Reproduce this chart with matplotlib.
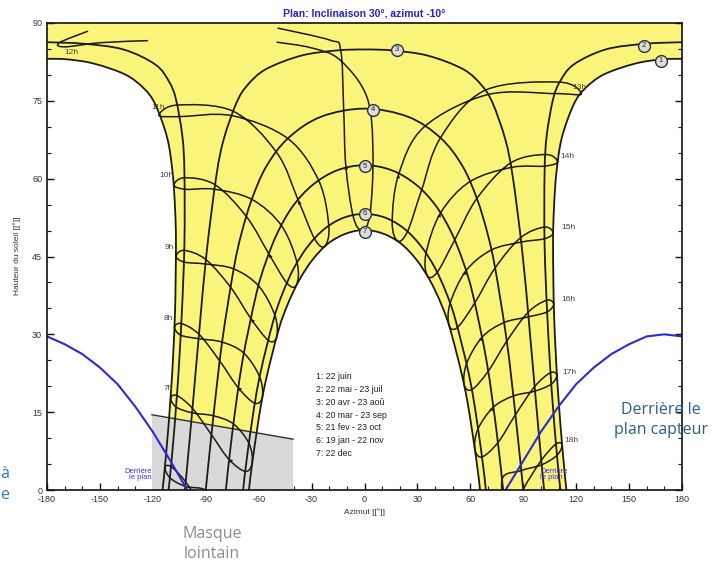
import matplotlib
matplotlib.use("Agg")
import matplotlib.pyplot as plt
from matplotlib.ticker import MultipleLocator
from matplotlib.path import Path
from matplotlib.patches import PathPatch

plt.rcParams['font.family'] = ['Liberation Sans', 'DejaVu Sans']
plt.rcParams['axes.unicode_minus'] = False

# ---------------- data (azimut [deg], hauteur [deg]) ----------------
# date curves
c1L_az = [-114.5, -112.6, -109.5, -107.5, -106.9, -107.4, -108.75, -111.8, -118.6, -125.1, -135.8, -153.7, -168.75, -180]
c1L_h = [0, 6.5, 19.9, 33.6, 47.3, 54.2, 61.0, 67.8, 74.3, 77.4, 80.1, 82.2, 83.0, 83.1]
c1R_az = [180, 168.75, 153.7, 135.8, 125.1, 118.6, 111.8, 108.75, 107.4, 106.9, 107.5, 109.5, 112.6, 114.5]
c1R_h = [83.1, 83.0, 82.2, 80.1, 77.4, 74.3, 67.8, 61.0, 54.2, 47.3, 33.6, 19.9, 6.5, 0]

c2L_az = [-111.1, -109.4, -106.1, -103.7, -102.1, -102.1, -103.3, -106.9, -110.8, -118.6, -136.7, -159.2, -180]
c2L_h = [0, 5.6, 19.3, 33.2, 47.3, 61.3, 68.3, 75.3, 78.7, 82.0, 84.9, 86.0, 86.3]
c2R_az = [180, 159.2, 136.7, 118.6, 110.8, 106.9, 103.3, 102.1, 102.1, 103.7, 106.1, 109.4, 111.1]
c2R_h = [86.3, 86.0, 84.9, 82.0, 78.7, 75.3, 68.3, 61.3, 47.3, 33.2, 19.3, 5.6, 0]

c3_az = [-101.9, -100.9, -97.1, -93.4, -89.4, -84.0, -79.8, -72.6, -66.4, -55.9, -36.0, -16.1, 0,
         16.1, 36.0, 55.9, 66.4, 72.6, 79.8, 84.0, 89.4, 93.4, 97.1, 100.9, 101.9]
c3_h = [0, 3.2, 17.4, 31.7, 46.1, 60.5, 67.6, 74.6, 78.0, 81.1, 83.7, 84.7, 84.9,
        84.7, 83.7, 81.1, 78.0, 74.6, 67.6, 60.5, 46.1, 31.7, 17.4, 3.2, 0]

c4_az = [-90, -85.6, -80.7, -74.1, -69.7, -63.8, -55.6, -43.3, -24.9, 0, 24.9, 43.3, 55.6, 63.8, 69.7, 74.1, 80.7, 85.6, 90]
c4_h = [0, 14.4, 28.6, 42.7, 49.5, 56.1, 62.4, 67.8, 71.9, 73.5, 71.9, 67.8, 62.4, 56.1, 49.5, 42.7, 28.6, 14.4, 0]

c5_az = [-78.6, -75.0, -69.3, -61.4, -56.0, -49.3, -40.6, -29.4, -15.6, 0, 15.6, 29.4, 40.6, 49.3, 56.0, 61.4, 69.3, 75.0, 78.6]
c5_h = [0, 10.95, 24.65, 37.7, 43.9, 49.6, 54.7, 58.8, 61.6, 62.6, 61.6, 58.8, 54.7, 49.6, 43.9, 37.7, 24.65, 10.95, 0]

c6_az = [-68.8, -66.1, -60.2, -51.8, -46.4, -39.8, -31.8, -22.4, -11.6, 0, 11.6, 22.4, 31.8, 39.8, 46.4, 51.8, 60.2, 66.1, 68.8]
c6_h = [0, 7.7, 20.6, 32.5, 37.95, 42.9, 47.1, 50.4, 52.5, 53.2, 52.5, 50.4, 47.1, 42.9, 37.95, 32.5, 20.6, 7.7, 0]

c7_az = [-65.5, -63.1, -57.2, -48.9, -43.5, -37.1, -29.4, -20.6, -10.6, 0, 10.6, 20.6, 29.4, 37.1, 43.5, 48.9, 57.2, 63.1, 65.5]
c7_h = [0, 6.6, 19.1, 30.6, 35.8, 40.4, 44.4, 47.5, 49.4, 50.1, 49.4, 47.5, 44.4, 40.4, 35.8, 30.6, 19.1, 6.6, 0]

# hour lines (analemmas): Jun, Jul, Aug, Sep, Oct, Nov, Dec, Jan, Feb, Mar, Apr, May, Jun
h06 = [(-113.15, 4.32), (-110.19, 2.32), (-101.57, 0.69), (-90.03, -0.1), (-88, -4), (-91.14, -3.74),
       (-101.34, 1.54), (-109.66, 4.51), (-113.15, 4.32)]
h07 = [(-109.92, 17.69), (-106.78, 15.99), (-97.76, 14.88), (-85.63, 14.3), (-74.26, 12.73), (-65.51, 8.99),
       (-63.67, 5.29), (-67.54, 3.58), (-76.9, 5.92), (-86.81, 10.68), (-97.54, 15.74), (-106.33, 18.2), (-109.92, 17.69)]
h08 = [(-107.71, 31.36), (-104.18, 29.84), (-94.08, 29.16), (-80.74, 28.51), (-68.42, 26.39), (-59.48, 21.84),
       (-57.93, 17.86), (-62.42, 16.75), (-71.77, 19.79), (-82.19, 24.92), (-93.85, 30.03), (-103.86, 32.08), (-107.71, 31.36)]
h09 = [(-106.8, 45.06), (-102.29, 43.93), (-90.23, 43.56), (-74.14, 42.61), (-60.0, 39.32), (-50.72, 33.59),
       (-49.83, 29.45), (-54.4, 28.81), (-64.27, 32.96), (-75.82, 39.03), (-89.95, 44.42), (-102.16, 46.18), (-106.8, 45.06)]
h10 = [(-108.04, 58.77), (-101.52, 57.95), (-85.14, 57.97), (-63.88, 56.01), (-47.04, 50.93), (-38.2, 43.74),
       (-38.56, 39.52), (-43.89, 39.83), (-54.15, 45.46), (-66.88, 52.67), (-84.75, 58.83), (-101.91, 60.18), (-108.04, 58.77)]
h11 = [(-116.4, 72.2), (-105.17, 71.95), (-75.14, 72.14), (-43.46, 67.73), (-25.81, 59.52), (-20.24, 50.82),
       (-22.54, 46.99), (-28.21, 48.35), (-37.52, 55.8), (-49.7, 64.99), (-74.28, 72.97), (-106.32, 74.18), (-116.4, 72.2)]
h13 = [(122.8, 76.3), (110.6, 78.6), (68.23, 77.01), (43.06, 67.86), (32.31, 57.73), (24.28, 49.74),
       (18.66, 48.01), (15.7, 51.7), (19.37, 60.82), (33.74, 69.95), (69.71, 76.19), (108.15, 76.39), (122.8, 76.3)]
h14 = [(109.46, 63.23), (102.68, 64.65), (82.86, 63.03), (63.69, 56.18), (51.04, 48.12), (41.12, 41.91),
       (35.64, 41.28), (34.82, 45.5), (42.98, 53.31), (59.55, 59.38), (83.25, 62.17), (102.29, 62.42), (109.46, 63.23)]
h15 = [(107.0, 49.54), (101.91, 50.67), (88.57, 48.64), (74.04, 42.79), (62.43, 36.0), (52.64, 31.31),
       (47.97, 31.75), (48.45, 35.88), (57.48, 42.22), (71.81, 46.24), (88.85, 47.78), (102.04, 48.42), (107.0, 49.54)]
h16 = [(107.29, 35.84), (103.22, 36.56), (92.72, 34.24), (80.66, 28.69), (70.18, 22.91), (60.92, 19.36),
       (56.47, 20.34), (57.98, 24.45), (66.83, 29.51), (79.21, 32.28), (92.95, 33.37), (103.54, 34.32), (107.29, 35.84)]
h17 = [(109.08, 22.11), (105.42, 22.61), (96.44, 19.92), (85.57, 14.5), (75.68, 9.15), (66.57, 6.37),
       (62.53, 7.91), (64.27, 11.7), (72.93, 15.93), (84.39, 18.12), (96.66, 19.06), (105.87, 20.4), (109.08, 22.11)]
h18 = [(112.05, 8.68), (108.61, 8.88), (100.23, 5.71), (89.97, 0.1), (82, -6), (77.94, 2.01), (88.86, 3.74),
       (100.46, 4.86), (109.14, 6.69), (112.05, 8.68)]
closed_hour_lines = [h06, h07, h08, h09, h10, h11, h13, h14, h15, h16, h17, h18]

# 12h line, drawn as two open pieces
h12_main = [(-49.6, 86.3), (-30, 85.2), (-14, 82.9), (1.4, 75.7), (4.8, 65), (3.1, 53.1), (-1.5, 50.1),
            (-6.4, 52.7), (-10.6, 62.5), (-11.8, 73.3), (-13.5, 84.8), (-19.6, 86.7), (-49, 89)]
h12_top = [(-123, 86.6), (-150, 86.2), (-170, 85.4), (-173, 86.2), (-157, 88.4)]

# direction arrows (tail point, head point)
arrows = [((-28.21, 48.35), (-37.52, 55.8)), ((-43.89, 39.83), (-54.15, 45.46)),
          ((-54.4, 28.81), (-64.27, 32.96)), ((-62.42, 16.75), (-71.77, 19.79)),
          ((-67.54, 3.58), (-76.9, 5.92)), ((15.7, 51.7), (19.37, 60.82)),
          ((34.82, 45.5), (42.98, 53.31)), ((48.45, 35.88), (57.48, 42.22)),
          ((57.98, 24.45), (66.83, 29.51)), ((64.27, 11.7), (72.93, 15.93)),
          ((-6.4, 52.7), (-10.6, 62.5))]

hour_labels_left = ["7h", "8h", "9h", "10h", "11h"]
hour_left_pos = [(-108.5, 19.6), (-108.5, 33.1), (-108, 46.8), (-108.5, 60.7), (-113, 73.8)]
hour_labels_right = ["13h", "14h", "15h", "16h", "17h", "18h"]
hour_right_pos = [(118, 77.5), (111, 64.2), (111.5, 50.5), (111.5, 36.8), (112, 22.7), (113.5, 9.6)]

circle_labels = ["1", "2", "3", "4", "5", "6", "7"]
circle_pos = [(168, 82.7), (158.5, 85.6), (18.4, 84.8), (4.6, 73.3), (0, 62.4), (0, 53.2), (0, 49.8)]

# behind-the-plane limits
blueL_az = [-180, -170, -160, -150, -140, -130, -120, -110, -100.5]
blueL_h = [29.6, 28.1, 26.2, 23.6, 20.4, 16.1, 11.2, 5.6, 0]
blueR_az = [80, 90, 100, 110, 120, 130, 140, 150, 160, 170, 180]
blueR_h = [0, 5.6, 11.2, 16.1, 20.4, 23.6, 26.2, 28.1, 29.6, 30.0, 29.6]

# far mask (masque lointain)
mask_az = [-120.5, -120.5, -40.5, -40.5]
mask_h = [0, 14.5, 9.8, 0]

legend_lines = ["1: 22 juin", "2: 22 mai - 23 juil", "3: 20 avr - 23 aoû", "4: 20 mar - 23 sep",
                "5: 21 fev - 23 oct", "6: 19 jan - 22 nov", "7: 22 dec"]


def smooth(xs, ys, closed=False):
    """Smooth Bezier path through the given points (Catmull-Rom style)."""
    pts = list(zip(xs, ys))
    n = len(pts)
    verts = [pts[0]]
    codes = [Path.MOVETO]
    for i in range(n - 1):
        if i > 0:
            p0 = pts[i - 1]
        else:
            p0 = pts[-2] if closed else pts[0]
        p1 = pts[i]
        p2 = pts[i + 1]
        if i + 2 < n:
            p3 = pts[i + 2]
        else:
            p3 = pts[1] if closed else pts[i + 1]
        c1 = (p1[0] + (p2[0] - p0[0]) / 6.0, p1[1] + (p2[1] - p0[1]) / 6.0)
        c2 = (p2[0] - (p3[0] - p1[0]) / 6.0, p2[1] - (p3[1] - p1[1]) / 6.0)
        verts += [c1, c2, p2]
        codes += [Path.CURVE4] * 3
    return verts, codes


# ---------------- figure ----------------
fig = plt.figure(figsize=(7.28, 5.65), dpi=100)
ax = fig.add_axes([47 / 728, 75 / 565, 635 / 728, 467 / 565])
ax.set_xlim(-180, 180)
ax.set_ylim(0, 90)

yellow = '#fbf47a'
line_col = '#1c1c10'

# yellow region between June and December curves
v1, k1 = smooth(c1L_az, c1L_h)
v2, k2 = smooth(c1R_az, c1R_h)
v3, k3 = smooth(c7_az[::-1], c7_h[::-1])
verts = v1 + [(-180, 90), (180, 90)] + v2 + v3 + [v1[0]]
codes = k1 + [Path.LINETO, Path.LINETO] + [Path.LINETO] + k2[1:] + [Path.LINETO] + k3[1:] + [Path.CLOSEPOLY]
ax.add_patch(PathPatch(Path(verts, codes), facecolor=yellow, edgecolor='none', zorder=1))

# far mask
ax.fill(mask_az, mask_h, color='#d9d9d9', lw=0, zorder=2)
ax.plot(mask_az[1:3], mask_h[1:3], color='#303030', lw=1.0, zorder=3)


def draw(xs, ys, closed=False, lw=1.2):
    v, k = smooth(xs, ys, closed)
    ax.add_patch(PathPatch(Path(v, k), facecolor='none', edgecolor=line_col, lw=lw, zorder=4,
                           joinstyle='round', capstyle='round'))


# date curves
for xs, ys in [(c1L_az, c1L_h), (c1R_az, c1R_h), (c2L_az, c2L_h), (c2R_az, c2R_h),
               (c3_az, c3_h), (c4_az, c4_h), (c5_az, c5_h), (c6_az, c6_h), (c7_az, c7_h)]:
    draw(xs, ys, lw=1.3)

# hour lines
for pts in closed_hour_lines:
    draw([p[0] for p in pts], [p[1] for p in pts], closed=True, lw=1.1)
for pts in (h12_main, h12_top):
    draw([p[0] for p in pts], [p[1] for p in pts], lw=1.1)

for tail, head in arrows:
    ax.annotate('', xy=head, xytext=tail,
                arrowprops=dict(arrowstyle='-|>', mutation_scale=7, color=line_col, lw=0,
                                shrinkA=0, shrinkB=0), zorder=5)

# blue limits
ax.plot(blueL_az, blueL_h, color='#2b2bd6', lw=1.5, zorder=5)
ax.plot(blueR_az, blueR_h, color='#2b2bd6', lw=1.5, zorder=5)

# hour labels
for t, (x, y) in zip(hour_labels_left, hour_left_pos):
    ax.text(x, y, t, ha='right', va='center', fontsize=6, color='#444444', zorder=6)
for t, (x, y) in zip(hour_labels_right, hour_right_pos):
    ax.text(x, y, t, ha='left', va='center', fontsize=6, color='#444444', zorder=6)
ax.text(-166, 84.3, "12h", ha='center', va='center', fontsize=6, color='#444444', zorder=6)

# circled numbers
for t, (x, y) in zip(circle_labels, circle_pos):
    ax.plot([x], [y], marker='o', ms=8.5, mfc='#dcdcdc', mec='#333333', mew=1.0, zorder=7)
    ax.text(x, y, t, ha='center', va='center', fontsize=5.5, color='#222222', zorder=8)

# legend text
for i, t in enumerate(legend_lines):
    ax.text(-27.5, 21.8 - i * 2.45, t, ha='left', va='center', fontsize=6.3, color='#222222', zorder=6)

# "Derrière le plan" small labels
ax.text(-120.6, 3.0, "Derrière\nle plan", ha='right', va='center', fontsize=5.5,
        color='#3535e6', linespacing=0.95, zorder=6)
ax.text(99.5, 3.0, "Derrière\nle plan", ha='left', va='center', fontsize=5.5,
        color='#3535e6', linespacing=0.95, zorder=6)

# axes styling
ax.xaxis.set_major_locator(MultipleLocator(30))
ax.xaxis.set_minor_locator(MultipleLocator(10))
ax.yaxis.set_major_locator(MultipleLocator(15))
ax.yaxis.set_minor_locator(MultipleLocator(5))
ax.tick_params(which='both', direction='in', top=False, right=True, labelsize=6.5,
               labelcolor='#333333', color='#111111')
ax.tick_params(which='major', length=5, width=1.0)
ax.tick_params(which='minor', length=3, width=0.8)
for s in ax.spines.values():
    s.set_linewidth(1.2)
    s.set_color('#111111')
    s.set_zorder(9)

# title and axis labels
fig.text(364.5 / 728, 1 - 14 / 565, "Plan: Inclinaison 30°, azimut -10°", ha='center', va='center',
         fontsize=7.5, fontweight='bold', color='#2424c8')
fig.text(364.5 / 728, 1 - 512 / 565, "Azimut [[°]]", ha='center', va='center', fontsize=6, color='#333333')
fig.text(17 / 728, 1 - 256 / 565, "Hauteur du soleil [[°]]", ha='center', va='center', rotation=90,
         fontsize=6, color='#333333')

# outer annotations
fig.text(661 / 728, 1 - 420 / 565, "Derrière le\nplan capteur", ha='center', va='center', fontsize=11.5,
         color='#2f5b8f', linespacing=1.4, family=['Open Sans', 'DejaVu Sans'])
fig.text(212 / 728, 1 - 544 / 565, "Masque\nlointain", ha='center', va='center', fontsize=11.5,
         color='#8c8c8c', linespacing=1.4, family=['Open Sans', 'DejaVu Sans'])
fig.text(9 / 728, 1 - 474 / 565, "à", ha='right', va='center', fontsize=11.5,
         color='#2f74c8', family=['Open Sans', 'DejaVu Sans'])
fig.text(9 / 728, 1 - 495 / 565, "e", ha='right', va='center', fontsize=11.5,
         color='#2f74c8', family=['Open Sans', 'DejaVu Sans'])

fig.savefig("out.png", dpi=100)
